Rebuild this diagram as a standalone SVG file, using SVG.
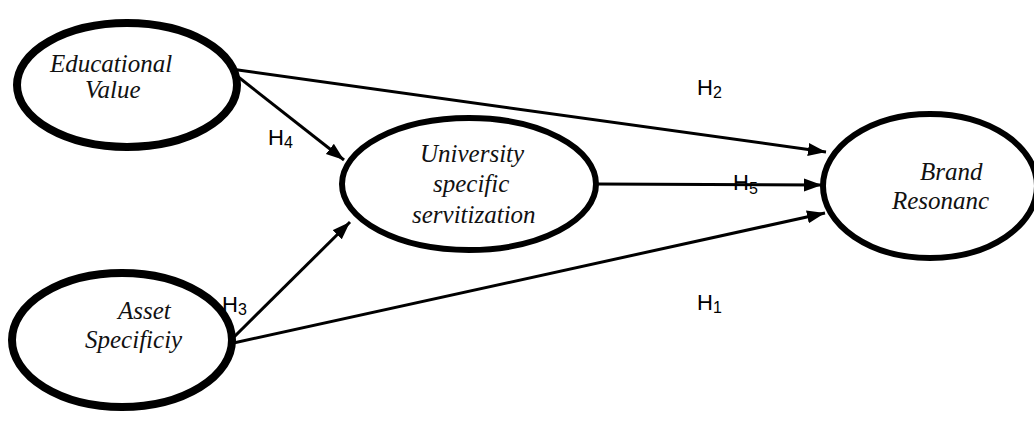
<svg xmlns="http://www.w3.org/2000/svg" width="1034" height="423" viewBox="0 0 1034 423">
<style>
.node ellipse{fill:#fff;stroke:#000}
.nt{font-family:"Liberation Serif","Times New Roman",serif;font-style:italic;font-size:25px;fill:#111}
.conn line{stroke:#000;stroke-width:3}
.lbl{font-family:"Liberation Sans",Arial,sans-serif;font-size:22px;fill:#000}
.sub{font-size:16px}
</style>
<defs>
<marker id="ah" markerUnits="userSpaceOnUse" markerWidth="20" markerHeight="14" refX="18" refY="6.5" orient="auto">
<path d="M0,0 L18,6.5 L0,13 z" fill="#000"/>
</marker>
</defs>
<rect width="1034" height="423" fill="#fff"/>
<g id="connectors" class="conn">
<line x1="231" y1="69" x2="826" y2="152" marker-end="url(#ah)"/>
<line x1="232" y1="72" x2="344" y2="160" marker-end="url(#ah)"/>
<line x1="229" y1="342" x2="350" y2="222" marker-end="url(#ah)"/>
<line x1="229" y1="344" x2="825" y2="213" marker-end="url(#ah)"/>
<line x1="596" y1="184" x2="822" y2="185" marker-end="url(#ah)"/>
</g>
<g id="educational" class="node">
<ellipse cx="127" cy="85" rx="110" ry="62" stroke-width="8"/>
<text class="nt" x="50" y="72">Educational</text>
<text class="nt" x="85" y="98">Value</text>
</g>
<g id="asset" class="node">
<ellipse cx="122" cy="340" rx="110" ry="67" stroke-width="8"/>
<text class="nt" x="118" y="319">Asset</text>
<text class="nt" x="85" y="348">Specificiy</text>
</g>
<g id="university" class="node">
<ellipse cx="469" cy="184" rx="127" ry="66" stroke-width="6"/>
<text class="nt" x="420" y="162">University</text>
<text class="nt" x="433" y="192">specific</text>
<text class="nt" x="412" y="223">servitization</text>
</g>
<g id="brand" class="node">
<ellipse cx="930" cy="186" rx="107" ry="72" stroke-width="6"/>
<text class="nt" x="920" y="180">Brand</text>
<text class="nt" x="892" y="209">Resonanc</text>
</g>
<g id="labels" class="lbl">
<text x="697" y="95">H<tspan class="sub" dy="3">2</tspan></text>
<text x="268" y="145">H<tspan class="sub" dy="3">4</tspan></text>
<text x="222" y="312">H<tspan class="sub" dy="3">3</tspan></text>
<text x="733" y="190">H<tspan class="sub" dy="4">5</tspan></text>
<text x="697" y="310">H<tspan class="sub" dy="3">1</tspan></text>
</g>
</svg>
